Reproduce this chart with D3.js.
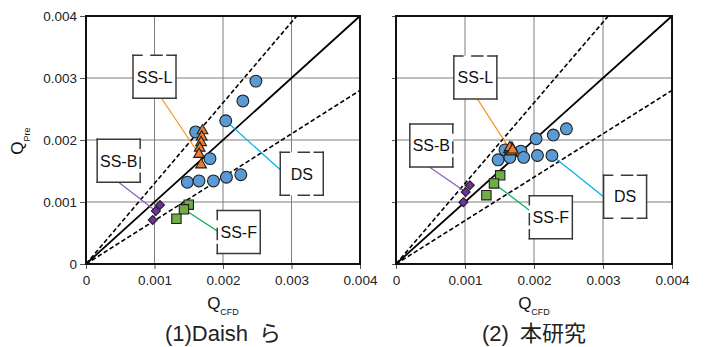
<!DOCTYPE html>
<html>
<head>
<meta charset="utf-8">
<script src="https://cdn.jsdelivr.net/npm/d3@7"></script>
<style>
  body { margin: 0; background: #fff; }
  text { font-family: "Liberation Sans", Arial, "Noto Sans CJK JP", sans-serif; }
</style>
</head>
<body>
<svg id="chart" width="707" height="347"></svg>
<script>
// Q_Pre vs Q_CFD, two panels: (1) Daish et al. and (2) this study
// each series is a list of [Q_CFD, Q_Pre]

var tickValues = [0, 0.001, 0.002, 0.003, 0.004];
var tickLabels = ["0", "0.001", "0.002", "0.003", "0.004"];
var refSlopes = [1, 1.3, 0.7];   // 1:1 line and +-30 % lines

// (1) Daish
var daishDS = [[0.00248, 0.00295], [0.00229, 0.00263], [0.00204, 0.00231], [0.00160, 0.00213],
  [0.00181, 0.00170], [0.00148, 0.00132], [0.00165, 0.00134], [0.00186, 0.00134],
  [0.00205, 0.00140], [0.00226, 0.00144]];
var daishSSL = [[0.00170, 0.00215], [0.00169, 0.00205], [0.00168, 0.00196],
  [0.00166, 0.00187], [0.00165, 0.00177], [0.00168, 0.00160]];
var daishSSB = [[0.00108, 0.00095], [0.00102, 0.000855], [0.000974, 0.00071]];
var daishSSF = [[0.00150, 0.000956], [0.00143, 0.000882], [0.00132, 0.00073]];

// (2) this study
var studyDS = [[0.00247, 0.00218], [0.00228, 0.00208], [0.00203, 0.00202], [0.00158, 0.00184],
  [0.00181, 0.00182], [0.00148, 0.00168], [0.00165, 0.00172], [0.00185, 0.00172],
  [0.00205, 0.00175], [0.00226, 0.00175]];
var studySSL = [[0.00164, 0.00185], [0.00166, 0.00183], [0.00168, 0.00187],
  [0.00167, 0.00181], [0.00165, 0.00188], [0.00169, 0.00184]];
var studySSB = [[0.00107, 0.00127], [0.00101, 0.00116], [0.000976, 0.000995]];
var studySSF = [[0.00151, 0.00143], [0.00142, 0.00130], [0.00131, 0.00111]];

var colors = { DS: "#5b9bd5", "SS-L": "#ed7d31", "SS-B": "#7030a0", "SS-F": "#70ad47" };
var leaderColors = { DS: "#00b0f0", "SS-L": "#f7941d", "SS-B": "#8e5cc0", "SS-F": "#00b050" };

var svg = d3.select("#chart");
var plotTop = 16, plotBottom = 264;
var boxSize = 43;

var panels = [
  { left: 86, right: 360, yLabels: true, title: "(1)Daish\u2002ら",
    series: { DS: daishDS, "SS-L": daishSSL, "SS-B": daishSSB, "SS-F": daishSSF },
    boxes: [
      { label: "SS-L", cx: 0.00100, cy: 0.00302, side: "bottom", off: 7, target: daishSSL[4], dashed: ["top"] },
      { label: "SS-B", cx: 0.000477, cy: 0.001665, side: "bottom", off: 0, target: daishSSB[1], dashed: ["right"] },
      { label: "DS", cx: 0.00315, cy: 0.001455, side: "left", off: -4, target: daishDS[2], dashed: ["top", "bottom"] },
      { label: "SS-F", cx: 0.00223, cy: 0.000516, side: "left", off: -1, target: daishSSF[1], dashed: ["left"] }
    ] },
  { left: 396, right: 672, yLabels: false, title: "(2)\u2002本研究",
    series: { DS: studyDS, "SS-L": studySSL, "SS-B": studySSB, "SS-F": studySSF },
    boxes: [
      { label: "SS-L", cx: 0.00115, cy: 0.00301, side: "bottom", off: 2, target: studySSL[1], dashed: ["top"] },
      { label: "SS-B", cx: 0.000512, cy: 0.00191, side: "bottom", off: -2, target: studySSB[1], dashed: ["right"] },
      { label: "DS", cx: 0.00332, cy: 0.001085, side: "left", off: 0, target: studyDS[9], dashed: ["top", "bottom"] },
      { label: "SS-F", cx: 0.002244, cy: 0.000753, side: "left", off: -7, target: studySSF[1], dashed: ["left"] }
    ] }
];

panels.forEach(drawPanel);

// y axis title (left panel only)
var yTitle = svg.append("text")
  .attr("transform", "translate(23,141) rotate(-90)")
  .attr("text-anchor", "middle")
  .attr("fill", "#111");
yTitle.append("tspan").attr("font-size", 17).text("Q");
yTitle.append("tspan").attr("font-size", 9).attr("dy", 7).text("Pre");

function drawPanel(p) {
  var x = d3.scaleLinear().domain([0, 0.004]).range([p.left, p.right]);
  var y = d3.scaleLinear().domain([0, 0.004]).range([plotBottom, plotTop]);
  var g = svg.append("g");

  // gridlines
  g.selectAll(".vgrid").data(tickValues.slice(1, 4)).enter().append("line")
    .attr("x1", d => x(d)).attr("x2", d => x(d))
    .attr("y1", y(0)).attr("y2", y(0.004))
    .attr("stroke", "#7f7f7f").attr("stroke-width", 1);
  g.selectAll(".hgrid").data(tickValues.slice(1, 4)).enter().append("line")
    .attr("x1", x(0)).attr("x2", x(0.004))
    .attr("y1", d => y(d)).attr("y2", d => y(d))
    .attr("stroke", "#7f7f7f").attr("stroke-width", 1);

  // axes
  var xAxis = g.append("g")
    .attr("transform", `translate(0, ${y(0)})`)
    .call(d3.axisBottom(x).tickValues(tickValues)
      .tickFormat((d, i) => tickLabels[i]).tickSize(5).tickPadding(6));
  var yAxis = g.append("g")
    .attr("transform", `translate(${x(0)}, 0)`)
    .call(d3.axisLeft(y).tickValues(tickValues)
      .tickFormat((d, i) => p.yLabels ? tickLabels[i] : "").tickSize(p.yLabels ? 6 : 4).tickPadding(3));
  [xAxis, yAxis].forEach(function(a) {
    a.select(".domain").remove();
    a.attr("font-family", null).attr("font-size", 13.5);
    a.selectAll(".tick line").attr("stroke", "#555");
    a.selectAll(".tick text").attr("fill", "#222");
  });

  // reference lines
  refSlopes.forEach(function(s) {
    var ex = s > 1 ? 0.004 / s : 0.004;
    g.append("line")
      .attr("x1", x(0)).attr("y1", y(0))
      .attr("x2", x(ex)).attr("y2", y(ex * s))
      .attr("stroke", "#000")
      .attr("stroke-width", s === 1 ? 1.8 : 1.6)
      .attr("stroke-dasharray", s === 1 ? null : "4.5,2.5");
  });

  // frame
  g.append("rect")
    .attr("x", x(0)).attr("y", y(0.004))
    .attr("width", x(0.004) - x(0)).attr("height", y(0) - y(0.004))
    .attr("fill", "none").attr("stroke", "#111").attr("stroke-width", 2);

  // callout boxes with leader lines
  p.boxes.forEach(function(b) {
    var cx = x(b.cx), cy = y(b.cy), h = boxSize / 2;
    var sx = b.side === "left" ? cx - h : cx + b.off;
    var sy = b.side === "left" ? cy + b.off : cy + h;
    g.append("line")
      .attr("x1", sx).attr("y1", sy)
      .attr("x2", x(b.target[0])).attr("y2", y(b.target[1]))
      .attr("stroke", leaderColors[b.label]).attr("stroke-width", 1.2);
    g.append("rect")
      .attr("x", cx - h).attr("y", cy - h)
      .attr("width", boxSize).attr("height", boxSize)
      .attr("fill", "#fff");
    var sides = {
      top: [cx - h, cy - h, cx + h, cy - h],
      right: [cx + h, cy - h, cx + h, cy + h],
      bottom: [cx - h, cy + h, cx + h, cy + h],
      left: [cx - h, cy - h, cx - h, cy + h]
    };
    Object.keys(sides).forEach(function(k) {
      var s = sides[k];
      g.append("line")
        .attr("x1", s[0]).attr("y1", s[1]).attr("x2", s[2]).attr("y2", s[3])
        .attr("stroke", "#3a3a3a").attr("stroke-width", 1.5)
        .attr("stroke-linecap", "square")
        .attr("stroke-dasharray", b.dashed.indexOf(k) >= 0 ? "9,9,11,5" : null);
    });
    g.append("text")
      .attr("x", cx).attr("y", cy)
      .attr("dy", "0.36em")
      .attr("text-anchor", "middle")
      .attr("font-size", 16)
      .attr("fill", "#111")
      .text(b.label);
  });

  // markers
  var symbols = [
    { key: "DS", type: d3.symbolCircle, size: 110, rot: 0 },
    { key: "SS-F", type: d3.symbolSquare, size: 88, rot: 0 },
    { key: "SS-B", type: d3.symbolSquare, size: 40, rot: 45 },
    { key: "SS-L", type: d3.symbolTriangle, size: 50, rot: 0 }
  ];
  symbols.forEach(function(m) {
    g.selectAll(".m" + m.key).data(p.series[m.key]).enter().append("path")
      .attr("d", d3.symbol().type(m.type).size(m.size))
      .attr("transform", d => `translate(${x(d[0])}, ${y(d[1])}) rotate(${m.rot})`)
      .attr("fill", colors[m.key])
      .attr("stroke", "#1f1f1f")
      .attr("stroke-width", 1.1);
  });

  // x axis title
  var cxTitle = (x(0) + x(0.004)) / 2;
  var xt = g.append("text")
    .attr("x", cxTitle).attr("y", 309)
    .attr("text-anchor", "middle")
    .attr("fill", "#111");
  xt.append("tspan").attr("font-size", 17).text("Q");
  xt.append("tspan").attr("font-size", 9).attr("dy", 6).text("CFD");

  // panel caption
  g.append("text")
    .attr("x", cxTitle).attr("y", 341)
    .attr("text-anchor", "middle")
    .attr("font-size", 22)
    .attr("fill", "#222")
    .text(p.title);
}
</script>
</body>
</html>
